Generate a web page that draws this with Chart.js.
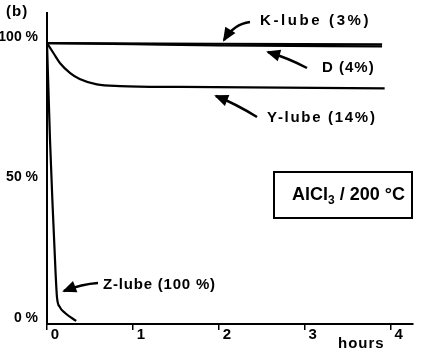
<!DOCTYPE html>
<html>
<head>
<meta charset="utf-8">
<script src="https://cdn.jsdelivr.net/npm/chart.js@4/dist/chart.umd.min.js"></script>
<style>
  html, body { margin: 0; padding: 0; background: #fff; }
  #wrap { width: 440px; height: 360px; }
</style>
</head>
<body>
<div id="wrap"><canvas id="chart" width="440" height="360"></canvas></div>
<script>
// hours / percent remaining
const kHours = [0, 3.9];
const kValues = [100, 99.5];
const dHours = [0, 1, 2, 3.9];
const dValues = [100, 99.6, 99.2, 98.8];
const yHours = [0, 0.08, 0.15, 0.27, 0.38, 0.58, 0.85, 1.55, 3.93];
const yValues = [100, 96.2, 92.9, 89.3, 87.2, 85.3, 84.7, 84.4, 83.9];
const zHours = [0, 0.035, 0.066, 0.10, 0.116, 0.15, 0.21, 0.34];
const zValues = [100, 65.5, 41.6, 18.1, 9.6, 6.0, 3.9, 1.1];
const xTicks = [0, 1, 2, 3, 4];
const yTicks = [0, 50, 100];

const FONT = "Liberation Sans, Arial, sans-serif";

function pts(xs, ys) {
  return xs.map((x, i) => ({ x: x, y: ys[i] }));
}

function line(label, xs, ys) {
  return {
    label: label,
    data: pts(xs, ys),
    borderColor: "#000",
    borderWidth: 2.2,
    pointRadius: 0,
    cubicInterpolationMode: "monotone",
    fill: false
  };
}

function arrow(ctx, tx, ty, cx, cy, hx, hy) {
  ctx.beginPath();
  ctx.moveTo(tx, ty);
  ctx.quadraticCurveTo(cx, cy, hx, hy);
  ctx.lineWidth = 2.5;
  ctx.stroke();
  const a = Math.atan2(hy - cy, hx - cx);
  const len = 12, w = 6;
  ctx.beginPath();
  ctx.moveTo(hx + Math.cos(a) * 2, hy + Math.sin(a) * 2);
  ctx.lineTo(hx - Math.cos(a) * len - Math.sin(a) * w, hy - Math.sin(a) * len + Math.cos(a) * w);
  ctx.lineTo(hx - Math.cos(a) * len + Math.sin(a) * w, hy - Math.sin(a) * len - Math.cos(a) * w);
  ctx.closePath();
  ctx.fill();
}

function label(ctx, text, x, y, spacing) {
  ctx.letterSpacing = spacing + "px";
  ctx.fillText(text, x, y);
}

// labels, arrows and the condition box
const notes = {
  id: "notes",
  afterDraw(chart) {
    const ctx = chart.ctx;
    ctx.save();
    ctx.fillStyle = "#000";
    ctx.strokeStyle = "#000";
    ctx.textBaseline = "middle";
    ctx.font = "bold 15px " + FONT;
    label(ctx, "(b)", 6, 12, 1);
    label(ctx, "K-lube (3%)", 260, 21, 2.6);
    label(ctx, "D (4%)", 322, 68, 1);
    label(ctx, "Y-lube (14%)", 267, 118, 1.7);
    label(ctx, "Z-lube (100 %)", 103, 285, 0.8);
    label(ctx, "hours", 338, 344, 1);
    ctx.letterSpacing = "0px";

    arrow(ctx, 250, 22, 234, 24, 224, 40);
    arrow(ctx, 307, 68, 288, 58, 268, 52);
    arrow(ctx, 257, 117, 236, 104, 216, 96);
    arrow(ctx, 98, 283, 82, 284, 64, 291);

    // box
    ctx.lineWidth = 2;
    ctx.strokeRect(274, 172, 138, 46);
    ctx.font = "bold 18px " + FONT;
    let x = 292;
    const y = 195;
    ctx.fillText("AlCl", x, y);
    x += ctx.measureText("AlCl").width;
    ctx.font = "bold 12px " + FONT;
    ctx.fillText("3", x, y + 6);
    x += ctx.measureText("3").width;
    ctx.font = "bold 18px " + FONT;
    ctx.fillText(" / 200 °C", x, y);
    ctx.restore();
  }
};

new Chart(document.getElementById("chart"), {
  type: "line",
  data: {
    datasets: [
      line("K-lube (3%)", kHours, kValues),
      line("D (4%)", dHours, dValues),
      line("Y-lube (14%)", yHours, yValues),
      line("Z-lube (100 %)", zHours, zValues)
    ]
  },
  options: {
    responsive: false,
    animation: false,
    layout: { padding: { left: 0, right: 27, top: 13, bottom: 0 } },
    plugins: { legend: { display: false }, tooltip: { enabled: false } },
    scales: {
      x: {
        type: "linear",
        min: 0,
        max: 4.26,
        afterBuildTicks: (s) => { s.ticks = xTicks.map(v => ({ value: v })); },
        afterFit: (s) => { s.height = 36; },
        grid: { drawOnChartArea: false, drawTicks: true, tickLength: 6, color: "#000", lineWidth: 1.5 },
        border: { display: true, color: "#000", width: 2 },
        ticks: {
          color: "#000",
          font: { family: FONT, size: 15, weight: "bold" },
          padding: -4,
          labelOffset: 8,
          maxRotation: 0
        }
      },
      y: {
        min: 0,
        max: 110.7,
        afterBuildTicks: (s) => { s.ticks = yTicks.map(v => ({ value: v })); },
        afterFit: (s) => { s.width = 47; },
        grid: { display: false },
        border: { display: true, color: "#000", width: 2 },
        ticks: {
          color: "#000",
          font: { family: FONT, size: 14, weight: "bold" },
          padding: 1,
          labelOffset: -6,
          callback: (v) => v + " %"
        }
      }
    }
  },
  plugins: [notes]
});
</script>
</body>
</html>
